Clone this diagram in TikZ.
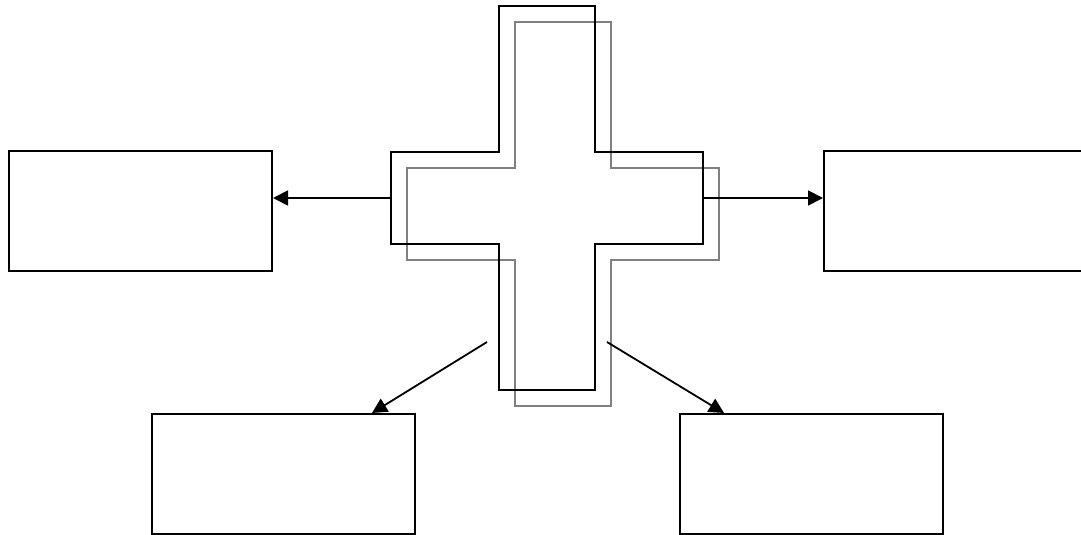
\documentclass[tikz,border=0pt]{standalone}
\usetikzlibrary{arrows.meta}
\begin{document}
\begin{tikzpicture}[x=1pt,y=-1pt,
  box/.style={draw=black,line width=2pt,minimum width=263pt,minimum height=120pt,inner sep=0pt,anchor=north west},
  crossline/.style={line width=2pt},
  conn/.style={line width=1.8pt,-{Triangle[length=15pt,width=15pt]}}]
\useasboundingbox (0,0) rectangle (1081,535);
% boxes
\node[box] (lb) at (8,150) {};
\node[box] (rb) at (823,150) {};
\node[box] (bl) at (151,413) {};
\node[box] (br) at (679,413) {};
% gray cross
\draw[crossline,draw=black!50] (515,22) -- (611,22) -- (611,168) -- (719,168) -- (719,260) -- (611,260) -- (611,406) -- (515,406) -- (515,260) -- (407,260) -- (407,168) -- (515,168) -- cycle;
% black cross
\draw[crossline,draw=black] (499,6) -- (595,6) -- (595,152) -- (703,152) -- (703,244) -- (595,244) -- (595,390) -- (499,390) -- (499,244) -- (391,244) -- (391,152) -- (499,152) -- cycle;
% connector coordinates
\coordinate (cl) at (391,198);
\coordinate (cr) at (703,198);
\coordinate (c3) at (487,342);
\coordinate (c4) at (607,342);
\coordinate (e3) at (372,413);
\coordinate (e4) at (724,413);
\draw[conn] (cl) -- (lb.east |- cl);
\draw[conn] (cr) -- (rb.west |- cr);
\draw[conn] (c3) -- (e3);
\draw[conn] (c4) -- (e4);
\end{tikzpicture}
\end{document}
